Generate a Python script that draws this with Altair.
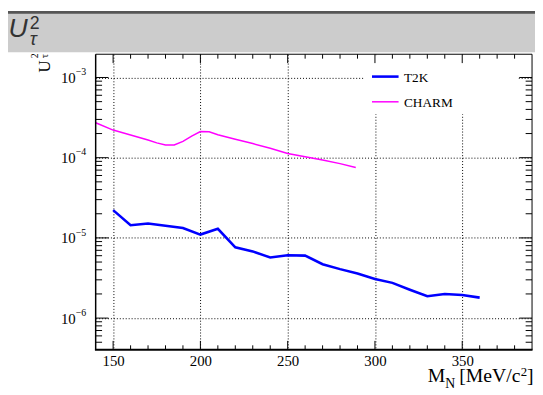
import altair as alt
import pandas as pd

# ---- data ----
t2k_mass = [150, 160, 170, 180, 190, 200, 210, 220, 230, 240, 250, 260, 270, 280,
            290, 300, 310, 320, 330, 340, 350, 360]
t2k_u2 = [2.22e-5, 1.44e-5, 1.51e-5, 1.42e-5, 1.33e-5, 1.10e-5, 1.30e-5, 7.64e-6,
          6.79e-6, 5.69e-6, 6.07e-6, 6.01e-6, 4.70e-6, 4.08e-6, 3.59e-6, 3.08e-6,
          2.75e-6, 2.26e-6, 1.87e-6, 2.00e-6, 1.94e-6, 1.80e-6]

charm_mass = [140, 150, 160, 170, 175, 180, 185, 190, 195, 200, 205, 210, 220, 230,
              240, 250, 260, 270, 280, 289]
charm_u2 = [2.73e-4, 2.21e-4, 1.92e-4, 1.66e-4, 1.53e-4, 1.44e-4, 1.44e-4, 1.60e-4,
            1.86e-4, 2.12e-4, 2.10e-4, 1.93e-4, 1.70e-4, 1.50e-4, 1.31e-4, 1.13e-4,
            1.03e-4, 9.35e-5, 8.44e-5, 7.54e-5]

x_label_values = [150, 200, 250, 300, 350]
y_label_values = [1e-6, 1e-5, 1e-4, 1e-3]
y_label_exps = ["\u22126", "\u22125", "\u22124", "\u22123"]

legend_names = ["T2K", "CHARM"]
legend_colors = ["#0000ff", "#ff00ff"]

# ---- layout ----
W, H = 443, 300
XDOM = [140, 390]
YDOM = [4.03e-7, 1.95e-3]
SERIF = "Liberation Serif"

xs = alt.Scale(domain=XDOM, nice=False, zero=False)
ys = alt.Scale(type="log", domain=YDOM, nice=False)
x_axis = alt.Axis(values=x_label_values, grid=True, gridDash=[1, 2], gridColor="black",
                  gridOpacity=1, gridWidth=1, ticks=False, tickSize=0, domain=False,
                  labelFont=SERIF, labelFontSize=15, labelColor="black",
                  labelPadding=4, title=None)
y_axis = alt.Axis(values=y_label_values, grid=True, gridDash=[1, 2], gridColor="black",
                  gridOpacity=1, gridWidth=1, ticks=False, tickSize=0, domain=False,
                  labels=False, title=None)


def X(f="x"):
    return alt.X(f"{f}:Q", scale=xs, axis=x_axis)


def Y(f="y"):
    return alt.Y(f"{f}:Q", scale=ys, axis=y_axis)


one = pd.DataFrame({"a": [0]})

t2k_df = pd.DataFrame({"x": t2k_mass, "y": t2k_u2})
charm_df = pd.DataFrame({"x": charm_mass, "y": charm_u2})

lines = [
    alt.Chart(charm_df).mark_line(color=legend_colors[1], strokeWidth=1.5).encode(x=X(), y=Y()),
    alt.Chart(t2k_df).mark_line(color=legend_colors[0], strokeWidth=2.6).encode(x=X(), y=Y()),
]

# legend box (white, hides grid)
legend_box = alt.Chart(one).mark_rect(color="white").encode(
    x=alt.value(273), x2=alt.value(429), y=alt.value(1), y2=alt.value(61))

# ticks (inside, ROOT style)
x_major = [v for v in range(150, 391, 10) if v % 50 == 0]
x_minor = [v for v in range(150, 390, 10) if v % 50 != 0]
y_major = y_label_values
y_minor = [k * 10.0 ** e for e in range(-7, -2) for k in range(2, 10)
           if YDOM[0] < k * 10.0 ** e < YDOM[1]]

xmaj_df = pd.DataFrame({"x": x_major})
xmin_df = pd.DataFrame({"x": x_minor})
ymaj_df = pd.DataFrame({"y": y_major})
ymin_df = pd.DataFrame({"y": y_minor})

ticks = []
for df, ln in [(xmaj_df, 9), (xmin_df, 4.5)]:
    ticks.append(alt.Chart(df).mark_rule(color="black", strokeWidth=1).encode(
        x=X(), y=alt.value(H), y2=alt.value(H - ln)))
    ticks.append(alt.Chart(df).mark_rule(color="black", strokeWidth=1).encode(
        x=X(), y=alt.value(0), y2=alt.value(ln)))
for df, ln in [(ymaj_df, 13), (ymin_df, 6.5)]:
    ticks.append(alt.Chart(df).mark_rule(color="black", strokeWidth=1).encode(
        y=Y(), x=alt.value(0), x2=alt.value(ln)))
    ticks.append(alt.Chart(df).mark_rule(color="black", strokeWidth=1).encode(
        y=Y(), x=alt.value(W), x2=alt.value(W - ln)))

# frame
frame = [
    alt.Chart(one).mark_rule(color="black", strokeWidth=1.5).encode(
        x=alt.value(0), y=alt.value(0), y2=alt.value(H)),
    alt.Chart(one).mark_rule(color="black", strokeWidth=1).encode(
        x=alt.value(W), y=alt.value(0), y2=alt.value(H)),
    alt.Chart(one).mark_rule(color="black", strokeWidth=1).encode(
        y=alt.value(0), x=alt.value(0), x2=alt.value(W)),
    alt.Chart(one).mark_rule(color="black", strokeWidth=2).encode(
        y=alt.value(H), x=alt.value(-0.75), x2=alt.value(W + 0.5)),
]

# legend entries
leg = []
leg_y = [22.7, 48.3]
leg_w = [2.6, 1.5]
for name, col, ly, lw in zip(legend_names, legend_colors, leg_y, leg_w):
    leg.append(alt.Chart(one).mark_rule(color=col, strokeWidth=lw).encode(
        x=alt.value(280.5), x2=alt.value(307.5), y=alt.value(ly)))
    leg.append(alt.Chart(one).mark_text(text=name, font=SERIF, fontSize=13.5, color="black",
                                        align="left", baseline="middle").encode(
        x=alt.value(313), y=alt.value(ly + 1)))

# y tick labels 10^n
ylab_df = pd.DataFrame({"y": y_label_values, "e": y_label_exps})
ylabels = [
    alt.Chart(ylab_df).mark_text(text="10", font=SERIF, fontSize=15, color="black",
                                 align="right", baseline="alphabetic", dy=5.6).encode(
        y=Y(), x=alt.value(-20.3)),
    alt.Chart(ylab_df).mark_text(font=SERIF, fontSize=10, color="black",
                                 align="left", baseline="alphabetic", dy=-2.4).encode(
        y=Y(), x=alt.value(-20.3), text="e:N"),
]

# y axis title (rotated, mostly under the header)
ytitle = [
    alt.Chart(one).mark_text(text="U", font=SERIF, fontSize=17, color="black", angle=270,
                             align="left", baseline="alphabetic").encode(
        x=alt.value(-46.3), y=alt.value(18.5)),
    alt.Chart(one).mark_text(text="2", font=SERIF, fontSize=10, color="black", angle=270,
                             align="left", baseline="alphabetic").encode(
        x=alt.value(-59), y=alt.value(4)),
    alt.Chart(one).mark_text(text="\u03c4", font=SERIF, fontSize=11, color="black", angle=270,
                             align="left", baseline="alphabetic").encode(
        x=alt.value(-48), y=alt.value(4)),
]

# x axis title  M_N [MeV/c^2]
xt = [("M", 337, 333, 20), ("N", 355, 338.5, 14), ("[MeV/c", 369, 333, 20),
      ("2", 431.5, 326.5, 13), ("]", 438, 333, 20)]
xtitle = [alt.Chart(one).mark_text(text=t, font=SERIF, fontSize=fs, color="black",
                                   align="left", baseline="alphabetic").encode(
    x=alt.value(px), y=alt.value(py)) for t, px, py, fs in xt]

# header band
header = [
    alt.Chart(one).mark_rect(color="#cccccc").encode(
        x=alt.value(-89), x2=alt.value(W + 3), y=alt.value(-44), y2=alt.value(-2)),
    alt.Chart(one).mark_rect(color="#555555").encode(
        x=alt.value(-89), x2=alt.value(W + 3), y=alt.value(-44), y2=alt.value(-41)),
    alt.Chart(one).mark_text(text="U", font="Liberation Sans", fontSize=27, fontStyle="italic",
                             color="#333333", align="left", baseline="alphabetic").encode(
        x=alt.value(-88.5), y=alt.value(-17)),
    alt.Chart(one).mark_text(text="2", font="Liberation Sans", fontSize=18,
                             color="#333333", align="left", baseline="alphabetic").encode(
        x=alt.value(-67), y=alt.value(-26)),
    alt.Chart(one).mark_text(text="\u03c4", font="Liberation Sans", fontSize=19, fontStyle="italic",
                             color="#333333", align="left", baseline="alphabetic").encode(
        x=alt.value(-67), y=alt.value(-9.5)),
]

chart = alt.layer(
    *lines, legend_box, *ticks, *frame, *leg, *ylabels, *ytitle, *xtitle, *header
).properties(
    width=W, height=H,
    autosize=alt.AutoSizeParams(type="none"),
    padding={"left": 89, "top": 44, "right": 3, "bottom": 43},
    background="white",
).configure_view(stroke=None).configure_axis(
    labelFont=SERIF, labelFontSize=15, labelColor="black"
)

chart.save("out.html", embed_options={"renderer": "svg", "actions": False})
